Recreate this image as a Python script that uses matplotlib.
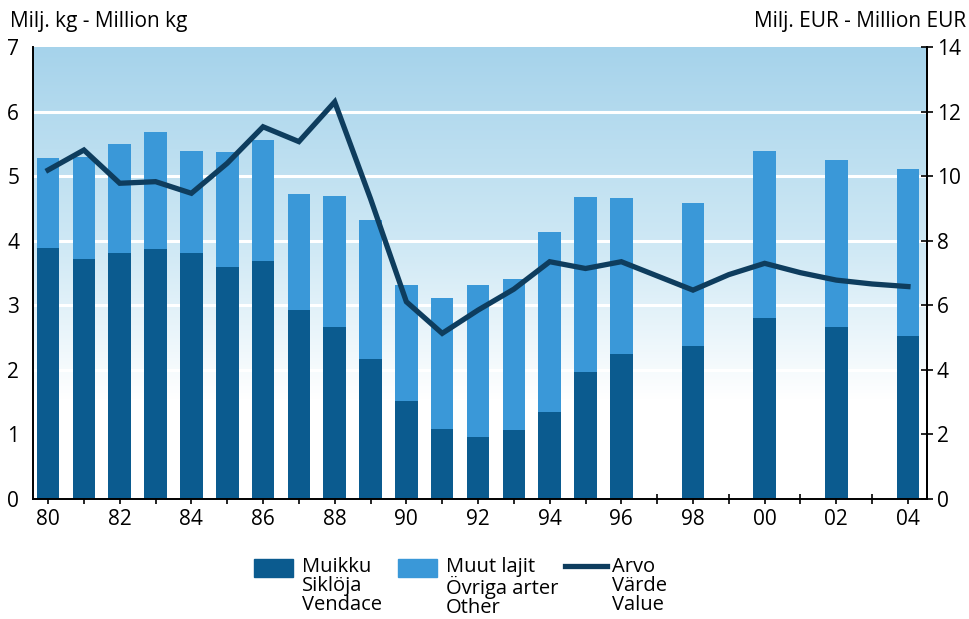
import numpy as np
import matplotlib.pyplot as plt
from matplotlib.patches import Rectangle
from matplotlib.lines import Line2D

plt.rcParams['font.family'] = ['Open Sans', 'DejaVu Sans']

# catch (million kg) by year
bar_years = [1980, 1981, 1982, 1983, 1984, 1985, 1986, 1987, 1988, 1989, 1990,
             1991, 1992, 1993, 1994, 1995, 1996, 1998, 2000, 2002, 2004]
vendace = [3.88, 3.72, 3.81, 3.87, 3.81, 3.59, 3.68, 2.92, 2.67, 2.17, 1.51,
           1.08, 0.96, 1.07, 1.34, 1.97, 2.24, 2.37, 2.81, 2.67, 2.53]
total = [5.28, 5.30, 5.50, 5.68, 5.39, 5.37, 5.56, 4.72, 4.69, 4.32, 3.31,
         3.11, 3.31, 3.40, 4.13, 4.67, 4.66, 4.59, 5.39, 5.25, 5.11]
other = [t - v for t, v in zip(total, vendace)]

# value (million EUR)
value_years = [1980, 1981, 1982, 1983, 1984, 1985, 1986, 1987, 1988, 1989, 1990,
               1991, 1992, 1993, 1994, 1995, 1996, 1998, 1999, 2000, 2001,
               2002, 2003, 2004]
value = [10.19, 10.81, 9.78, 9.83, 9.47, 10.40, 11.53, 11.07, 12.30, 9.3, 6.11,
         5.13, 5.85, 6.50, 7.35, 7.14, 7.35, 6.47, 6.95, 7.30, 7.01,
         6.78, 6.66, 6.58]

tick_years = list(range(1980, 2005, 2))
tick_labels = [f"{y % 100:02d}" for y in tick_years]

dark = '#0b5b8f'
light = '#3a98d8'
line_col = '#0e3d5e'
fs = 15

fig = plt.figure(figsize=(9.69, 6.19), dpi=100)
ax = fig.add_axes([0.0341, 0.1939, 0.9225, 0.7301])
ax2 = ax.twinx()

ax.set_xlim(1979.58, 2004.53)
ax.set_ylim(0, 7)
ax2.set_ylim(0, 14)

# background gradient: light blue at top fading to white
grad = np.linspace(0, 1, 256)
top_c = np.array([166, 211, 235]) / 255
mid_c = np.array([208, 233, 245]) / 255
bot_c = np.array([1.0, 1.0, 1.0])
img = np.zeros((256, 1, 3))
for i, g in enumerate(grad):
    # g=0 bottom, g=1 top
    if g < 0.22:
        c = bot_c
    elif g < 0.55:
        t = (g - 0.22) / 0.33
        c = bot_c * (1 - t) + mid_c * t
    else:
        t = (g - 0.55) / 0.45
        c = mid_c * (1 - t) + top_c * t
    img[i, 0] = c
ax.imshow(img, extent=[1979.58, 2004.53, 0, 7], origin='lower',
          aspect='auto', zorder=0)

for yv in range(1, 7):
    ax.axhline(yv, color='white', lw=2.2, zorder=1)

ax.bar(bar_years, vendace, width=0.63, color=dark, zorder=2)
ax.bar(bar_years, other, bottom=vendace, width=0.63, color=light, zorder=2)

ax2.plot(value_years, value, color=line_col, lw=3.8, solid_joinstyle='miter', zorder=3)

ax.set_xticks(tick_years)
ax.set_xticks(range(1980, 2005), minor=True)
ax.set_xticklabels(tick_labels, fontsize=fs)
ax.tick_params(axis='x', which='both', direction='inout', length=7, width=1.2, pad=4)
ax.set_yticks(range(0, 8))
ax.tick_params(axis='y', length=0, labelsize=fs, pad=10)
ax2.set_yticks(range(0, 15, 2))
ax2.tick_params(axis='y', direction='inout', length=8, width=1.2, labelsize=fs, pad=3)

for a in (ax, ax2):
    a.spines['top'].set_visible(False)
    for s in a.spines.values():
        s.set_linewidth(1.4)
ax2.spines['left'].set_visible(False)
ax2.spines['bottom'].set_visible(False)

fig.text(0.010, 0.965, 'Milj. kg - Million kg', fontsize=fs, va='center', ha='left')
fig.text(0.997, 0.965, 'Milj. EUR - Million EUR', fontsize=fs, va='center', ha='right')

# legend drawn in figure coordinates
W, H = 969, 619
def fx(px):
    return px / W
def fy(py):
    return 1 - py / H

fig.patches.append(Rectangle((fx(254), fy(577)), fx(293) - fx(254), (577 - 559) / H,
                             transform=fig.transFigure, color=dark))
fig.patches.append(Rectangle((fx(398), fy(577)), fx(437) - fx(398), (577 - 559) / H,
                             transform=fig.transFigure, color=light))
fig.lines.append(Line2D([fx(565), fx(607)], [fy(566), fy(566)],
                        transform=fig.transFigure, color=line_col, lw=3.8))
legend_texts = [(302, ['Muikku', 'Siklöja', 'Vendace']),
                (446, ['Muut lajit', 'Övriga arter', 'Other']),
                (612, ['Arvo', 'Värde', 'Value'])]
for x0, lines in legend_texts:
    fig.text(fx(x0), fy(557), '\n'.join(lines), fontsize=14.5, va='top', ha='left',
             linespacing=0.95)

fig.savefig('out.png', dpi=100)
